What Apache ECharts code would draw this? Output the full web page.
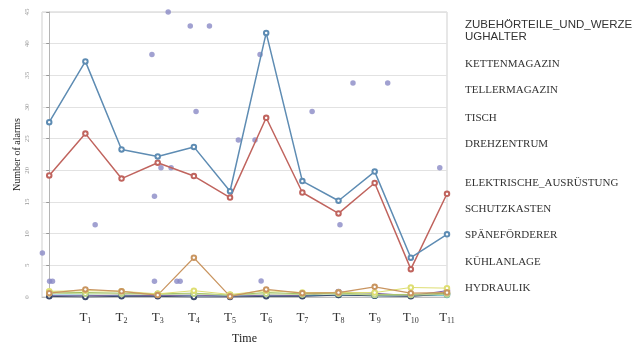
<!DOCTYPE html>
<html><head><meta charset="utf-8">
<script src="https://cdn.jsdelivr.net/npm/echarts@6/dist/echarts.min.js"></script>
<style>html,body{margin:0;padding:0;background:#fff}#c{width:632px;height:347px}</style>
</head><body><div id="c"></div><script>
// time positions (0 = unlabeled start, 1..11 = T1..T11)
const timeIndex = [0,1,2,3,4,5,6,7,8,9,10,11];
const timeLabels = ['', 'T1','T2','T3','T4','T5','T6','T7','T8','T9','T10','T11'];
const yTicks = [0,5,10,15,20,25,30,35,40,45];

const seriesNames = ['ZUBEHÖRTEILE_UND_WERZEUGHALTER','KETTENMAGAZIN','TELLERMAGAZIN','TISCH','DREHZENTRUM',
  'ELEKTRISCHE_AUSRÜSTUNG','SCHUTZKASTEN','SPÄNEFÖRDERER','KÜHLANLAGE','HYDRAULIK'];

const zubehoer   = [27.6,37.2,23.3,22.2,23.7,16.7,41.7,18.3,15.2,19.8,6.2,9.9];
const ketten     = [19.2,25.8,18.7,21.2,19.1,15.7,28.3,16.5,13.2,18.0,4.4,16.3];
const teller     = [0.3,0.3,0.2,0.3,0.2,0.2,0.2,0.2,0.3,0.2,0.2,0.3];
const tisch      = [0.2,0.2,0.3,0.2,0.3,0.1,0.3,0.2,0.8,0.6,0.2,1.0];
const drehzentrum= [0.1,0.0,0.1,0.1,0.0,0.0,0.1,0.1,0.3,0.2,0.1,0.5];
const schutz     = [0.8,0.7,0.6,0.5,0.6,0.3,0.7,0.5,0.6,0.4,0.4,0.6];
const spaene     = [0.9,1.0,0.9,0.5,1.0,0.4,1.0,0.7,0.7,0.7,1.5,1.4];
const kuehl      = [0.6,1.2,0.9,0.3,6.2,0.1,1.2,0.6,0.7,1.6,0.6,0.7];
const hydraulik  = [0.6,0.5,0.5,0.4,0.5,0.3,0.5,0.4,0.5,0.3,0.3,0.4];

// scattered points (ELEKTRISCHE_AUSRÜSTUNG)
const elektX = [-0.19,0.01,0.09,1.27,2.84,2.91,2.91,3.09,3.37,3.53,3.62,3.29,3.9,4.06,4.43,5.23,5.69,5.83,5.86,7.27,8.04,8.4,9.36,10.8];
const elektY = [6.95,2.48,2.48,11.4,38.3,15.9,2.48,20.4,20.4,2.48,2.48,45,42.8,29.3,42.8,24.8,24.8,38.3,2.53,29.3,11.4,33.8,33.8,20.4];

const chart = echarts.init(document.getElementById('c'));

function lineSeries(name, values, color, width, z) {
  return {
    name, type: 'line', z: z || 2,
    data: values.map((v, i) => [timeIndex[i], v]),
    symbol: 'emptyCircle', symbolSize: 4.5,
    lineStyle: { color, width: width || 1.5 },
    itemStyle: { color, borderColor: color, borderWidth: 1 },
    animation: false
  };
}

const legendCenters = [30.9, 64.3, 90.3, 117.7, 144, 183.3, 209.3, 235.3, 262, 288];
const legendText = seriesNames.slice();
legendText[0] = 'ZUBEHÖRTEILE_UND_WERZE\nUGHALTER';

chart.setOption({
  animation: false,
  backgroundColor: '#fff',
  grid: { left: 42, right: 185, top: 12, bottom: 50, show: true, borderColor: '#cfcfcf', borderWidth: 1,
          containLabel: false, outerBoundsMode: 'none' },
  xAxis: {
    type: 'value', min: -0.2, max: 11,
    name: 'Time', nameLocation: 'middle', nameGap: 36, nameMoveOverlap: false,
    nameTextStyle: { fontFamily: 'Liberation Serif', fontSize: 12, color: '#222' },
    axisLine: { show: true, lineStyle: { color: '#bfbfbf' } },
    axisTick: { show: false },
    splitLine: { show: false },
    axisLabel: {
      customValues: timeIndex.slice(1),
      margin: 14,
      formatter: v => '{t|T}{s|' + timeLabels[Math.round(v)].slice(1) + '}',
      rich: {
        t: { fontFamily: 'Liberation Serif', fontSize: 13, color: '#333' },
        s: { fontFamily: 'Liberation Serif', fontSize: 8, color: '#333', padding: [6, 0, 0, 0] }
      }
    }
  },
  yAxis: {
    type: 'value', min: yTicks[0], max: yTicks[yTicks.length - 1], interval: 5,
    name: 'Number of alarms', nameLocation: 'middle', nameGap: 20, nameMoveOverlap: false,
    nameTextStyle: { fontFamily: 'Liberation Serif', fontSize: 10, color: '#222' },
    axisLine: { show: true, lineStyle: { color: '#b5b5b5' } },
    axisTick: { show: true, length: 3, lineStyle: { color: '#999' } },
    splitLine: { lineStyle: { color: '#e2e2e2', width: 1 } },
    axisLabel: { rotate: 90, fontSize: 7, color: '#999', margin: 11, fontFamily: 'Liberation Serif' }
  },
  graphic: legendText.map((t, i) => ({
    type: 'text', x: 465, y: legendCenters[i], silent: true,
    style: {
      text: t, verticalAlign: 'middle', fill: '#333',
      font: i === 0 ? '11.5px "Liberation Sans"' : '11px "Liberation Serif"',
      lineHeight: 12
    }
  })),
  series: [
    {
      name: seriesNames[5], type: 'scatter', z: 1,
      data: elektX.map((x, i) => [x, elektY[i]]),
      symbolSize: 5.5, itemStyle: { color: '#8a8ac6' }, animation: false
    },
    lineSeries(seriesNames[2], teller, '#4bacc6', 1),
    lineSeries(seriesNames[3], tisch, '#8064a2', 1),
    lineSeries(seriesNames[4], drehzentrum, '#3b4a6b', 1),
    lineSeries(seriesNames[6], schutz, '#9bbb59', 1),
    lineSeries(seriesNames[9], hydraulik, '#bcd48e', 1),
    lineSeries(seriesNames[7], spaene, '#dede72', 1),
    lineSeries(seriesNames[8], kuehl, '#c99560', 1.2),
    lineSeries(seriesNames[1], ketten, '#c0645e', 1.5, 3),
    lineSeries(seriesNames[0], zubehoer, '#5e8cb3', 1.5, 3)
  ]
});
</script></body></html>
